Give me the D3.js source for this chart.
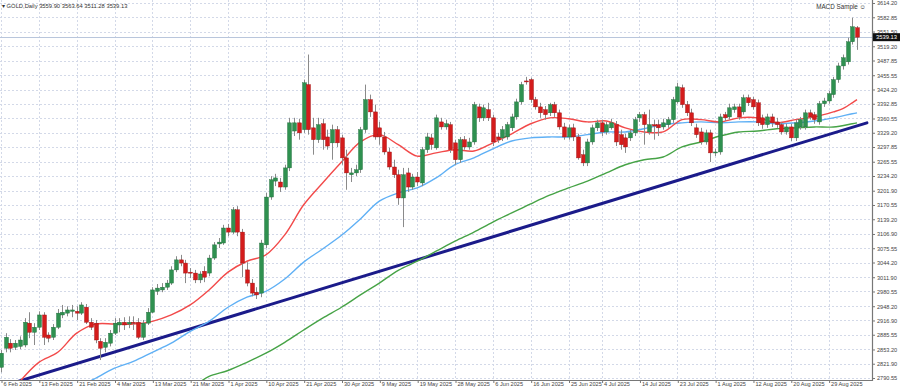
<!DOCTYPE html>
<html>
<head>
<meta charset="utf-8">
<script src="https://cdnjs.cloudflare.com/ajax/libs/d3/7.8.5/d3.min.js"></script>
<style>
  html, body { margin: 0; padding: 0; background: #fff; }
  svg { display: block; font-family: "Liberation Sans", Arial, sans-serif; }
  .axis text { fill: #444; font-size: 5.6px; }
  .axis line, .axis path { stroke: #777; }
</style>
</head>
<body>
<svg id="chart" width="900" height="389"></svg>
<script>
// ---- data (daily GOLD candles, one per bar) ----
var open = [2814,2856,2867,2858,2860,2863,2911,2891,2902,2929,2885,2880,2902,2929,2933,2937,2937,2933,2946,2913,
  2911,2871,2858,2867,2889,2907,2913,2909,2913,2913,2880,2911,2935,2981,2984,2990,2999,3028,3050,3043,
  3023,3021,3006,3025,3021,3054,3085,3087,3120,3111,3160,3111,3028,2999,2979,2977,3083,3188,3223,3221,
  3210,3252,3333,3351,3336,3435,3340,3314,3349,3320,3307,3336,3318,3274,3237,3241,3248,3336,3402,3375,
  3340,3320,3287,3254,3237,3186,3241,3210,3232,3219,3292,3318,3296,3353,3342,3347,3307,3270,3314,3298,
  3309,3386,3362,3380,3362,3320,3318,3320,3340,3364,3397,3443,3446,3402,3386,3380,3373,3391,3373,3342,
  3320,3340,3320,3281,3263,3309,3340,3351,3331,3340,3347,3325,3318,3318,3329,3362,3369,3331,3347,3347,
  3342,3347,3358,3397,3428,3391,3373,3340,3331,3309,3329,3285,3287,3369,3364,3380,3386,3375,3406,3402,
  3395,3362,3347,3364,3353,3347,3331,3342,3318,3342,3342,3373,3369,3353,3393,3399,3413,3446,3476,3485,
  3529,3559.90];
var high = [2852,2889,2876,2874,2882,2922,2935,2911,2937,2935,2891,2909,2942,2951,2948,2951,2948,2957,2953,2922,
  2918,2878,2878,2896,2922,2922,2924,2926,2926,2922,2918,2944,2990,2997,2999,3006,3036,3058,3061,3050,
  3032,3028,3025,3036,3061,3089,3098,3127,3129,3166,3168,3118,3045,3008,2990,3094,3197,3234,3239,3230,
  3259,3362,3362,3360,3446,3501,3362,3362,3360,3336,3347,3344,3325,3292,3252,3259,3342,3435,3413,3391,
  3353,3331,3296,3270,3248,3252,3252,3239,3243,3298,3329,3327,3369,3362,3358,3353,3314,3320,3322,3318,
  3397,3393,3391,3395,3369,3329,3344,3353,3371,3404,3441,3452,3450,3408,3395,3388,3395,3397,3380,3351,
  3347,3349,3327,3292,3316,3347,3358,3358,3353,3360,3355,3336,3327,3336,3364,3375,3375,3380,3358,3358,
  3360,3364,3408,3439,3435,3399,3382,3349,3340,3336,3336,3294,3371,3375,3393,3393,3393,3413,3413,3408,
  3402,3369,3371,3371,3362,3353,3349,3349,3358,3364,3380,3380,3375,3399,3406,3421,3452,3483,3501,3538,
  3582,3563.64];
var low = [2803,2847,2847,2852,2854,2858,2878,2863,2896,2863,2869,2874,2898,2922,2926,2924,2918,2929,2909,2896,
  2867,2830,2847,2860,2885,2891,2896,2900,2896,2876,2874,2907,2933,2973,2979,2984,2995,3023,3036,2999,
  3010,2999,2999,3001,3014,3050,3076,3083,3102,3107,3102,3012,2992,2970,2964,2968,3076,3182,3212,3199,
  3204,3245,3322,3314,3329,3325,3281,3307,3292,3292,3270,3298,3259,3204,3221,3234,3241,3329,3364,3314,
  3303,3281,3248,3230,3171,3122,3199,3204,3212,3212,3285,3292,3292,3336,3336,3285,3259,3263,3292,3292,
  3303,3353,3355,3355,3300,3307,3311,3314,3333,3358,3391,3435,3395,3380,3362,3358,3366,3364,3336,3314,
  3314,3311,3270,3256,3256,3303,3333,3322,3325,3336,3300,3292,3285,3311,3322,3353,3303,3325,3314,3322,
  3336,3340,3351,3393,3384,3366,3344,3318,3303,3303,3265,3278,3281,3355,3358,3373,3358,3369,3388,3380,
  3344,3338,3340,3342,3340,3325,3325,3311,3311,3336,3336,3358,3349,3347,3386,3393,3406,3439,3468,3479,
  3523,3511.28];
var close = [2845,2880,2856,2867,2874,2913,2891,2902,2929,2880,2878,2902,2933,2935,2940,2940,2933,2951,2913,2902,
  2874,2856,2869,2889,2911,2913,2907,2913,2911,2880,2911,2935,2984,2988,2990,2999,3028,3050,3043,3021,
  3021,3006,3019,3012,3054,3083,3089,3120,3111,3160,3111,3043,2999,2977,2973,3087,3188,3226,3230,3210,
  3252,3351,3351,3329,3439,3336,3314,3347,3314,3300,3336,3307,3274,3241,3241,3248,3336,3402,3375,3320,
  3320,3287,3254,3237,3186,3237,3210,3232,3221,3292,3320,3303,3362,3342,3349,3292,3270,3314,3298,3309,
  3391,3362,3384,3362,3309,3314,3336,3347,3364,3397,3435,3441,3402,3386,3373,3369,3391,3373,3342,3320,
  3340,3320,3274,3263,3309,3340,3351,3331,3347,3351,3309,3303,3298,3329,3358,3369,3347,3347,3344,3340,
  3351,3358,3402,3430,3391,3373,3351,3325,3309,3329,3285,3287,3364,3362,3384,3386,3364,3406,3395,3386,
  3351,3347,3364,3351,3347,3331,3342,3318,3351,3358,3373,3364,3358,3393,3399,3415,3446,3476,3494,3529,
  3562,3539.13];

// moving averages, sampled every few bars: [bar, price]
var maRed = [[4,2783],[8,2825],[12,2847],[16,2889],[20,2909],[24,2909],[28,2909],[32,2915],[36,2929],[40,2951],
  [44,2984],[48,3023],[52,3047],[56,3061],[60,3105],[64,3171],[68,3219],[72,3265],[76,3309],[80,3325],
  [84,3303],[88,3278],[92,3285],[96,3292],[100,3289],[104,3307],[108,3327],[112,3349],[116,3362],[120,3360],
  [124,3353],[128,3355],[132,3340],[136,3331],[140,3331],[144,3358],[148,3358],[152,3353],[156,3362],[160,3362],
  [164,3351],[168,3358],[172,3364],[176,3375],[178,3382],[180,3395],[181,3402]];
var maBlue = [[18,2779],[20,2790],[24,2812],[28,2827],[32,2847],[36,2867],[40,2893],[44,2915],[48,2946],[52,2968],
  [56,2981],[60,3008],[64,3045],[68,3074],[72,3104],[76,3140],[80,3179],[84,3197],[88,3208],[92,3230],
  [96,3259],[100,3274],[104,3294],[108,3311],[112,3318],[116,3320],[120,3320],[124,3325],[128,3331],[132,3331],
  [136,3338],[140,3347],[144,3351],[148,3353],[152,3351],[156,3353],[160,3353],[164,3349],[168,3351],[172,3355],
  [176,3362],[180,3371],[181,3373]];
var maGreen = [[42,2781],[44,2794],[48,2807],[52,2825],[56,2845],[60,2869],[64,2896],[68,2922],[72,2946],[76,2973],
  [80,2999],[84,3027],[88,3047],[92,3069],[96,3091],[100,3111],[104,3133],[108,3153],[112,3173],[116,3192],
  [120,3208],[124,3223],[128,3241],[132,3259],[136,3270],[140,3276],[144,3298],[148,3309],[152,3322],[156,3331],
  [160,3333],[164,3338],[168,3340],[172,3342],[176,3342],[180,3349],[181,3351]];
var trendLine = [[3.6,2783],[183.1,3351]];

var priceTicks = [3614.20,3582.85,3551.50,3519.20,3487.85,3455.55,3424.20,3392.85,3360.55,3329.20,3297.85,3265.55,
  3234.20,3201.90,3170.55,3139.20,3106.90,3075.55,3044.20,3011.90,2980.55,2948.20,2916.90,2885.55,2853.20,2821.90,2790.55];
var dateLabels = ["6 Feb 2025","13 Feb 2025","21 Feb 2025","4 Mar 2025","13 Mar 2025","21 Mar 2025","1 Apr 2025",
  "10 Apr 2025","21 Apr 2025","30 Apr 2025","9 May 2025","19 May 2025","28 May 2025","6 Jun 2025","16 Jun 2025",
  "25 Jun 2025","4 Jul 2025","14 Jul 2025","23 Jul 2025","1 Aug 2025","12 Aug 2025","20 Aug 2025","29 Aug 2025"];
var dateBars = [0,8,16,24,32,40,48,56,64,72,80,88,96,104,112,120,127,135,143,151,159,167,175];
var lastPrice = 3539.13;

// ---- layout ----
var plotRight = 872, plotBottom = 380;
var svg = d3.select("#chart");

var x = d3.scaleLinear().domain([0, open.length - 1]).range([1, 857]);
var y = d3.scaleLinear().domain([2790.55, 3614.20]).range([378, 3]);

svg.append("defs").append("clipPath").attr("id", "plot")
  .append("rect").attr("x", 0).attr("y", 0).attr("width", plotRight).attr("height", plotBottom);

// grid
var grid = svg.append("g");
grid.selectAll(".hg").data(priceTicks).enter().append("line")
  .attr("x1", 0).attr("x2", plotRight)
  .attr("y1", d => Math.round(y(d)) + 0.5).attr("y2", d => Math.round(y(d)) + 0.5)
  .attr("stroke", "#d3d9e8").attr("stroke-dasharray", "2,2");
grid.selectAll(".vg").data(dateBars).enter().append("line")
  .attr("y1", 0).attr("y2", plotBottom)
  .attr("x1", d => Math.round(x(d)) + 0.5).attr("x2", d => Math.round(x(d)) + 0.5)
  .attr("stroke", "#d3d9e8").attr("stroke-dasharray", "2,2");

// current price line
svg.append("line")
  .attr("x1", 0).attr("x2", plotRight)
  .attr("y1", Math.round(y(lastPrice)) + 0.5).attr("y2", Math.round(y(lastPrice)) + 0.5)
  .attr("stroke", "#b9c6dc").attr("stroke-width", 1);

var plot = svg.append("g").attr("clip-path", "url(#plot)");

// trend line
var lineGen = d3.line().x(d => x(d[0])).y(d => y(d[1]));
plot.append("path").datum(trendLine).attr("d", lineGen)
  .attr("fill", "none").attr("stroke", "#1b1b8a").attr("stroke-width", 3).attr("stroke-linecap", "round");

// moving averages
var curveGen = d3.line().curve(d3.curveCatmullRom).x(d => x(d[0])).y(d => y(d[1]));
[[maGreen, "#46a346"], [maBlue, "#5fb0f5"], [maRed, "#f24a4a"]].forEach(function(m) {
  plot.append("path").datum(m[0]).attr("d", curveGen)
    .attr("fill", "none").attr("stroke", m[1]).attr("stroke-width", 1.4);
});

// candles
var bars = d3.range(open.length).map(i => ({i: i, o: open[i], h: high[i], l: low[i], c: close[i]}));
var cg = plot.selectAll(".candle").data(bars).enter().append("g");
cg.append("line")
  .attr("x1", d => Math.round(x(d.i)) + 0.5).attr("x2", d => Math.round(x(d.i)) + 0.5)
  .attr("y1", d => y(d.h)).attr("y2", d => y(d.l))
  .attr("stroke", "#8a8a8a").attr("stroke-width", 1);
cg.append("rect")
  .attr("x", d => Math.round(x(d.i)) - 1.5)
  .attr("width", 4)
  .attr("y", d => y(Math.max(d.o, d.c)))
  .attr("height", d => Math.max(1, Math.abs(y(d.o) - y(d.c))))
  .attr("fill", d => d.c >= d.o ? "#2f9150" : "#d41c1c")
  .attr("stroke", d => d.c >= d.o ? "#1f6a3a" : "#9a1010")
  .attr("stroke-width", 0.4);

// axes
svg.append("line").attr("x1", plotRight + 0.5).attr("x2", plotRight + 0.5).attr("y1", 0).attr("y2", plotBottom + 1)
  .attr("stroke", "#777").attr("stroke-width", 1.2);
svg.append("line").attr("x1", 0).attr("x2", plotRight + 1).attr("y1", plotBottom + 0.5).attr("y2", plotBottom + 0.5)
  .attr("stroke", "#777").attr("stroke-width", 1.2);

var yAxis = svg.append("g").attr("class", "axis")
  .attr("transform", "translate(" + plotRight + ",0)")
  .call(d3.axisRight(y).tickValues(priceTicks).tickSize(3).tickSizeOuter(0).tickPadding(2)
    .tickFormat(d3.format(".2f")));
yAxis.select(".domain").remove();

var xAxis = svg.append("g").attr("class", "axis")
  .attr("transform", "translate(0," + plotBottom + ")")
  .call(d3.axisBottom(x).tickValues(dateBars).tickSize(3).tickSizeOuter(0)
    .tickFormat((d, i) => dateLabels[i]));
xAxis.select(".domain").remove();
xAxis.selectAll(".tick line").attr("transform", "translate(0.5,0)");
xAxis.selectAll(".tick text").attr("text-anchor", "start").attr("dx", 2).attr("y", 2)
  .attr("font-size", "5.2px");

// last price tag
var tagY = y(lastPrice);
svg.append("rect").attr("x", plotRight + 1).attr("y", tagY - 4).attr("width", 27).attr("height", 8).attr("fill", "#111");
svg.append("text").attr("x", plotRight + 4).attr("y", tagY + 2.2)
  .attr("fill", "#fff").attr("font-size", "5.8px").text(d3.format(".2f")(lastPrice));

// header texts
svg.append("text").attr("x", 2).attr("y", 8).attr("font-size", "5.8px").attr("fill", "#333")
  .text("\u25BE GOLD,Daily  " + [open[open.length-1], high[high.length-1], low[low.length-1], close[close.length-1]]
    .map(d3.format(".2f")).join(" "));
svg.append("text").attr("x", 866).attr("y", 9).attr("font-size", "6.3px").attr("fill", "#333")
  .attr("text-anchor", "end").text("MACD Sample \u263A");
</script>
</body>
</html>
